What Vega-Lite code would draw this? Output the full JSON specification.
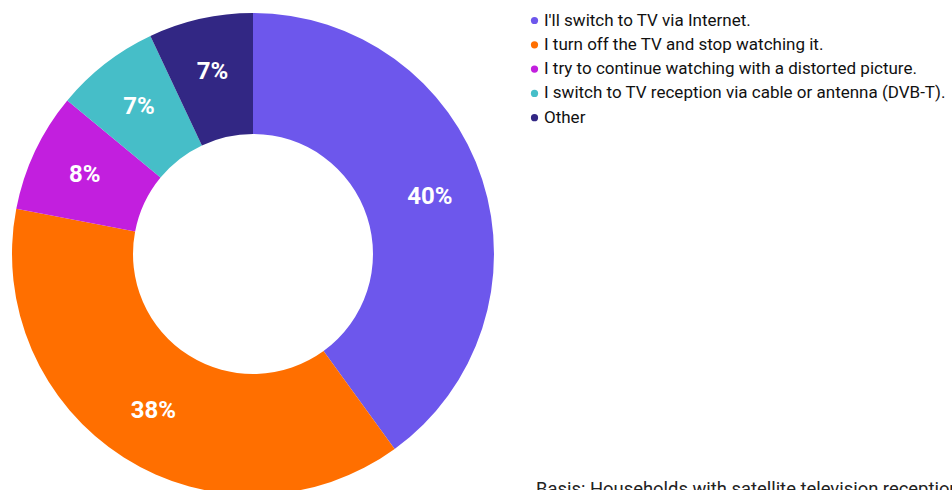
{
  "$schema": "https://vega.github.io/schema/vega-lite/v6.json",
  "width": 506,
  "height": 508,
  "autosize": "none",
  "padding": {"left": 0, "top": 0, "right": 446, "bottom": 0},
  "background": "white",
  "view": {"stroke": null},
  "title": {
    "text": "Basis: Households with satellite television reception",
    "orient": "bottom",
    "anchor": "start",
    "offset": 0,
    "dx": 536,
    "dy": -28,
    "baseline": "top",
    "font": "Roboto",
    "fontSize": 18.4,
    "fontWeight": "normal",
    "color": "#222222"
  },
  "data": {
    "values": [
      {"answer": "I'll switch to TV via Internet.", "share": 0.40, "rank": 1},
      {"answer": "I turn off the TV and stop watching it.", "share": 0.38, "rank": 2},
      {"answer": "I try to continue watching with a distorted picture.", "share": 0.08, "rank": 3},
      {"answer": "I switch to TV reception via cable or antenna (DVB-T).", "share": 0.07, "rank": 4},
      {"answer": "Other", "share": 0.07, "rank": 5}
    ]
  },
  "encoding": {
    "theta": {"field": "share", "type": "quantitative", "stack": true},
    "order": {"field": "rank", "type": "quantitative"}
  },
  "layer": [
    {
      "mark": {"type": "arc", "innerRadius": 120, "outerRadius": 241},
      "encoding": {
        "color": {
          "field": "answer",
          "type": "nominal",
          "scale": {
            "domain": [
              "I'll switch to TV via Internet.",
              "I turn off the TV and stop watching it.",
              "I try to continue watching with a distorted picture.",
              "I switch to TV reception via cable or antenna (DVB-T).",
              "Other"
            ],
            "range": ["#6D57EC", "#FF6F00", "#C21FDE", "#46BEC8", "#322784"]
          },
          "legend": {
            "title": null,
            "orient": "none",
            "legendX": 526,
            "legendY": 12,
            "symbolType": "circle",
            "symbolSize": 52,
            "symbolStrokeWidth": 0,
            "labelFont": "Roboto",
            "labelFontSize": 17,
            "labelColor": "#111111",
            "labelOffset": 1,
            "rowPadding": 6.3,
            "labelLimit": 500
          }
        }
      }
    },
    {
      "mark": {
        "type": "text",
        "radius": 186,
        "font": "Roboto",
        "fontWeight": "bold",
        "fontSize": 24,
        "fill": "white"
      },
      "encoding": {
        "text": {"field": "share", "type": "quantitative", "format": ".0%"}
      }
    }
  ]
}
